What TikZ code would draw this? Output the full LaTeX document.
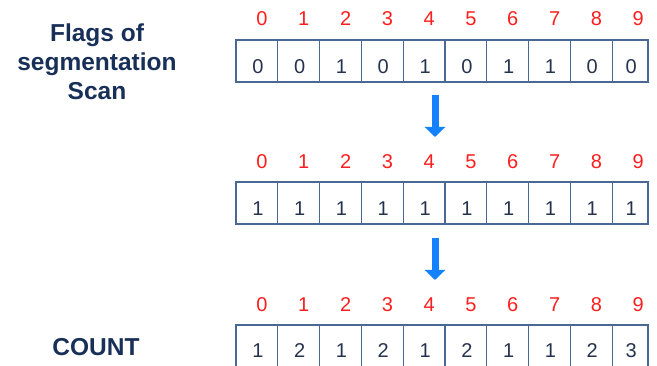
\documentclass[tikz,border=0pt]{standalone}
\usepackage{fontspec}
\setmainfont{Liberation Sans}
\usetikzlibrary{arrows.meta,calc}
\definecolor{navy}{RGB}{24,48,88}
\definecolor{cellline}{RGB}{74,104,148}
\definecolor{celltext}{RGB}{36,50,78}
\definecolor{idxred}{RGB}{255,30,30}
\definecolor{arrowblue}{RGB}{20,130,255}
\tikzset{
  cellbox/.style={draw=cellline, line width=1.3pt, minimum height=42pt, inner sep=0pt, outer sep=0pt, anchor=north west},
  celltxt/.style={font=\fontsize{20}{20}\selectfont, text=celltext, anchor=base},
  idx/.style={font=\fontsize{20}{20}\selectfont, text=idxred, anchor=base},
  leftlabel/.style={font=\fontsize{24.5}{29}\selectfont\bfseries, text=navy, align=center},
  blockarrow/.style={draw=arrowblue, line width=7pt, -{Triangle[width=20pt,length=10pt]}}
}
\begin{document}
\begin{tikzpicture}[x=1pt,y=-1pt]
\useasboundingbox (0,0) rectangle (657,366);
\clip (0,0) rectangle (657,366);
% row 1
\foreach \v [count=\i from 0] in {0,0,1,0,1,0,1,1,0,0} {
  \pgfmathsetmacro{\xl}{236+41.8*\i}
  \pgfmathsetmacro{\w}{ifthenelse(\i==9,35.8,41.8)}
  \node[cellbox, minimum width=\w pt] (a\i) at (\xl,40) {};
  \node[celltxt] (av\i) at ($(a\i.north)+(1,34)$) {\v};
  \node[idx] (ai\i) at (262+41.8*\i,26) {\i};
}
% row 2
\foreach \v [count=\i from 0] in {1,1,1,1,1,1,1,1,1,1} {
  \pgfmathsetmacro{\xl}{236+41.8*\i}
  \pgfmathsetmacro{\w}{ifthenelse(\i==9,35.8,41.8)}
  \node[cellbox, minimum width=\w pt] (b\i) at (\xl,182) {};
  \node[celltxt] (bv\i) at ($(b\i.north)+(1,34)$) {\v};
  \node[idx] (bi\i) at (262+41.8*\i,169) {\i};
}
% row 3
\foreach \v [count=\i from 0] in {1,2,1,2,1,2,1,1,2,3} {
  \pgfmathsetmacro{\xl}{236+41.8*\i}
  \pgfmathsetmacro{\w}{ifthenelse(\i==9,35.8,41.8)}
  \node[cellbox, minimum width=\w pt] (c\i) at (\xl,325) {};
  \node[celltxt] (cv\i) at ($(c\i.north)+(1,33)$) {\v};
  \node[idx] (ci\i) at (262+41.8*\i,312) {\i};
}
% left labels
\node[leftlabel, anchor=base] (flags) at (97,100) {Flags of\\segmentation\\Scan};
\node[leftlabel, anchor=base] (count) at (96,356) {COUNT};
% arrows
\coordinate (s1) at (435,95);
\coordinate (e1) at (435,137);
\coordinate (s2) at (435,238);
\coordinate (e2) at (435,280);
\draw[blockarrow] (s1) -- (e1);
\draw[blockarrow] (s2) -- (e2);
\end{tikzpicture}
\end{document}
